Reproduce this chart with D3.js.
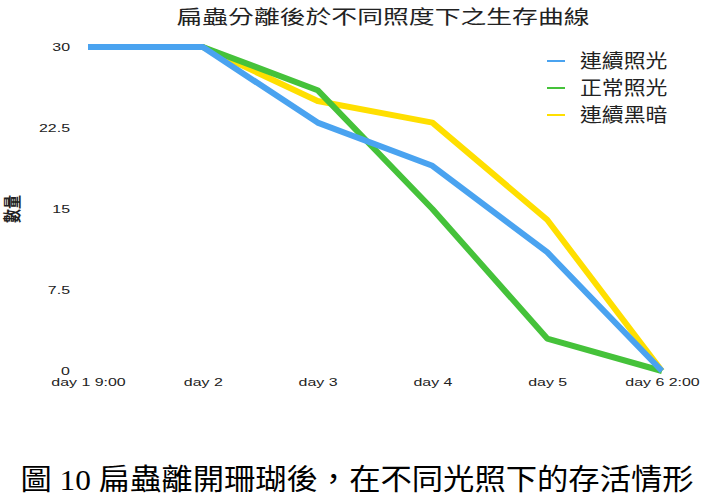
<!DOCTYPE html>
<html>
<head>
<meta charset="utf-8">
<script src="https://cdn.jsdelivr.net/npm/d3@7"></script>
<style>
  body { margin: 0; background: #fff; }
  svg text { font-family: "Helvetica Neue", Arial, "Liberation Sans", "Noto Sans CJK TC", sans-serif; }
</style>
</head>
<body>
<svg id="chart"></svg>
<script>
const width = 713;
const height = 504;

// chart data
const days = ["day 1 9:00", "day 2", "day 3", "day 4", "day 5", "day 6 2:00"];
const yTicks = [0, 7.5, 15, 22.5, 30];
const seriesNames = ["連續照光", "正常照光", "連續黑暗"];
const seriesColors = ["#4aa3f0", "#45c23a", "#ffdf00"];
const continuousLight = [30, 30, 23, 19, 11, 0];
const normalLight = [30, 30, 26, 15, 3, 0];
const continuousDark = [30, 30, 25, 23, 14, 0];

const series = [continuousLight, normalLight, continuousDark];

// the original chart was stretched sideways, so the text is too
const stretch = 1.45;

const svg = d3.select("#chart")
  .attr("width", width)
  .attr("height", height);

const x = d3.scalePoint()
  .domain(days)
  .range([88, 662]);

const y = d3.scaleLinear()
  .domain([0, 30])
  .range([371, 47]);

// title
svg.append("text")
  .attr("transform", "translate(383,24) scale(1.36,1)")
  .attr("text-anchor", "middle")
  .attr("font-size", 19)
  .attr("fill", "#222")
  .text("扁蟲分離後於不同照度下之生存曲線");

// y axis (labels only)
const yAxis = d3.axisLeft(y)
  .tickValues(yTicks)
  .tickSize(0)
  .tickPadding(0)
  .tickFormat(d => String(d));
const gy = svg.append("g")
  .attr("transform", "translate(70,0)")
  .call(yAxis);
gy.select(".domain").remove();
gy.selectAll("text")
  .attr("font-size", 11)
  .attr("fill", "#222")
  .attr("transform", `scale(${stretch},1)`);

// x axis (labels only)
const xAxis = d3.axisBottom(x).tickSize(0).tickPadding(0);
const gx = svg.append("g")
  .attr("transform", "translate(0,378)")
  .call(xAxis);
gx.select(".domain").remove();
gx.selectAll("text")
  .attr("font-size", 11)
  .attr("fill", "#222")
  .attr("transform", `scale(${stretch},1)`);

// y label
svg.append("text")
  .attr("transform", "translate(19,209) scale(1.3,1) rotate(-90)")
  .attr("text-anchor", "middle")
  .attr("font-size", 14)
  .attr("font-weight", "bold")
  .attr("fill", "#222")
  .text("數量");

// lines
const line = d3.line()
  .x((d, i) => x(days[i]))
  .y(d => y(d));

[2, 1, 0].forEach(k => {
  svg.append("path")
    .datum(series[k])
    .attr("d", line)
    .attr("fill", "none")
    .attr("stroke", seriesColors[k])
    .attr("stroke-width", 6)
    .attr("stroke-linejoin", "round");
});

// legend
const legend = svg.append("g");
seriesNames.forEach((name, i) => {
  const ly = 61 + i * 27;
  legend.append("line")
    .attr("x1", 547).attr("x2", 565)
    .attr("y1", ly).attr("y2", ly)
    .attr("stroke", seriesColors[i])
    .attr("stroke-width", 2);
  legend.append("text")
    .attr("transform", `translate(580,${ly}) scale(1.15,1)`)
    .attr("dy", "0.38em")
    .attr("font-size", 19)
    .attr("fill", "#222")
    .text(name);
});

// caption
svg.append("text")
  .attr("transform", "translate(357,490) scale(1.08,1)")
  .attr("text-anchor", "middle")
  .attr("font-size", 29)
  .attr("fill", "#000")
  .style("font-family", "'Liberation Serif', 'Noto Sans CJK TC', serif")
  .text("圖 10 扁蟲離開珊瑚後，在不同光照下的存活情形");
</script>
</body>
</html>
